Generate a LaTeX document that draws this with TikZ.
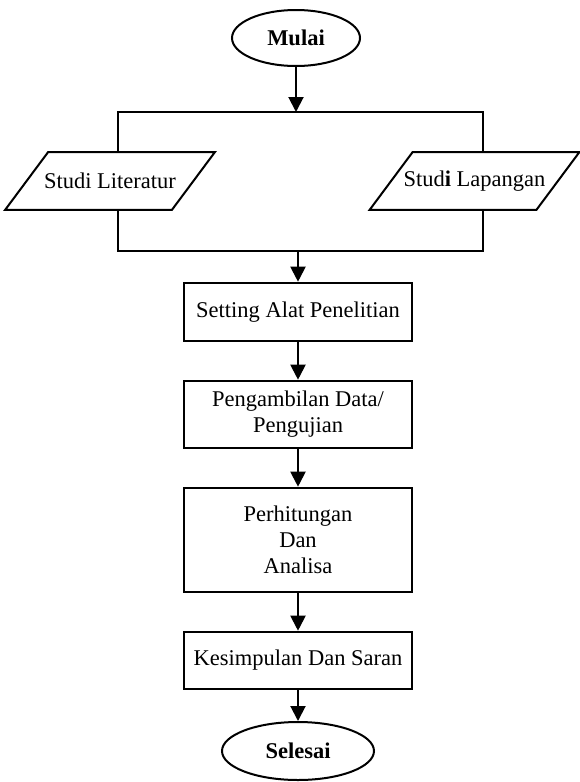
\documentclass[tikz,border=0pt]{standalone}
\usepackage{fontspec}
\setmainfont{Liberation Serif}
\usetikzlibrary{positioning,shapes.geometric,arrows.meta}

\begin{document}
\begin{tikzpicture}
    [
        x=0.5pt, y=-0.5pt,
        every node/.style={font=\fontsize{11.25}{13}\selectfont, align=center, inner sep=0pt},
        terminal/.style={draw, ellipse, line width=1pt, minimum width=64pt, minimum height=28pt, font=\fontsize{11.25}{13}\selectfont\bfseries},
        masukan/.style={rectangle, minimum width=83pt, minimum height=28.5pt},
        proses/.style={draw, rectangle, line width=1.3pt, minimum width=114pt},
        garis/.style={line width=1pt},
        panah/.style={garis, -{Triangle[width=7.5pt,length=7.5pt]}}
    ]

    % batas gambar
    \useasboundingbox (0,0) rectangle (579,782);

    \node[terminal] (mulai) at (296,38) {Mulai};
    \node[masukan] (lit) at (110,181) {Studi Literatur};
    \node[masukan] (lap) at (474.5,181) {Stud\textbf{i} Lapangan};
    \node[proses, minimum height=29pt] (setting) at (298,312) {Setting Alat Penelitian};
    \node[proses, minimum height=33.5pt] (ambil) at (298,414.5) {Pengambilan Data/\\Pengujian};
    \node[proses, minimum height=52pt] (hitung) at (298,540) {Perhitungan\\Dan\\Analisa};
    \node[proses, minimum height=28.5pt] (simpul) at (298,660.5) {Kesimpulan Dan Saran};
    \node[terminal, minimum width=76pt, minimum height=29pt] (selesai) at (298,751) {Selesai};

    % jajaran genjang data
    \foreach \n in {lit,lap}
        \draw[garis] ([xshift=-10.75pt]\n.south west) -- ([xshift=-10.75pt]\n.south east)
            -- ([xshift=10.75pt]\n.north east) -- ([xshift=10.75pt]\n.north west) -- cycle;

    % percabangan
    \coordinate (kiriatas) at (118,112);
    \coordinate (kananatas) at (483,112);
    \coordinate (kiribawah) at (118,251);
    \coordinate (kananbawah) at (483,251);

    \draw[panah] (mulai.south) -- (mulai.south |- kiriatas);
    \draw[garis] (lit.north -| kiriatas) -- (kiriatas) -- (kananatas) -- (lap.north -| kananatas);
    \draw[garis] (lit.south -| kiribawah) -- (kiribawah) -- (kananbawah) -- (lap.south -| kananbawah);
    \draw[panah] (setting.north |- kiribawah) -- (setting.north);

    % alur utama
    \draw[panah] (setting) -- (ambil);
    \draw[panah] (ambil) -- (hitung);
    \draw[panah] (hitung) -- (simpul);
    \draw[panah] (simpul) -- (selesai);
\end{tikzpicture}
\end{document}
